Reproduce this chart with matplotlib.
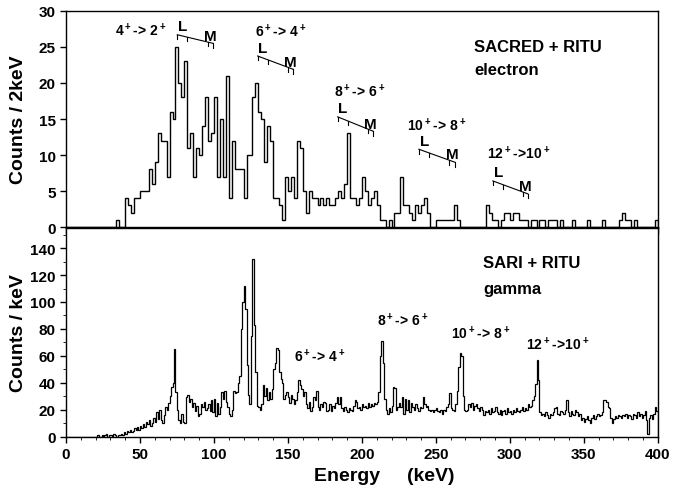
import numpy as np
import matplotlib
matplotlib.use("Agg")
import matplotlib.pyplot as plt
from matplotlib.ticker import MultipleLocator, FixedLocator

plt.rcParams['font.family'] = ['Liberation Sans', 'DejaVu Sans']
plt.rcParams['font.weight'] = 'bold'
plt.rcParams['mathtext.fontset'] = 'custom'
plt.rcParams['mathtext.bf'] = 'Liberation Sans:bold'
plt.rcParams['mathtext.rm'] = 'Liberation Sans:bold'
plt.rcParams['mathtext.default'] = 'bf'

# electron spectrum, 2 keV bins from 0 to 400 keV
electron_counts = [
    0, 0, 0, 0, 0, 0, 0, 0, 0, 0,
    0, 0, 0, 0, 0, 0, 0, 1, 0, 0,
    4, 3, 2, 4, 4, 5, 5, 5, 8, 6,
    9, 13, 12, 12, 7, 16, 15, 25, 20, 18,
    23, 11, 13, 7, 11, 10, 14, 18, 12, 13,
    18, 7, 15, 7, 21, 4, 12, 8, 8, 8,
    4, 10, 10, 18, 20, 16, 15, 9, 14, 12,
    4, 4, 3, 1, 7, 5, 7, 4, 12, 11,
    5, 2, 5, 4, 4, 3, 4, 3, 4, 3,
    3, 4, 5, 4, 6, 13, 4, 4, 3, 4,
    7, 5, 3, 4, 5, 3, 1, 1, 0, 1,
    0, 2, 2, 7, 3, 3, 2, 1, 3, 2,
    3, 4, 2, 0, 0, 1, 1, 1, 1, 1,
    1, 3, 1, 0, 0, 0, 0, 0, 0, 0,
    0, 0, 3, 2, 1, 1, 0, 1, 2, 2,
    1, 2, 2, 1, 1, 1, 0, 1, 1, 0,
    1, 1, 0, 1, 1, 1, 0, 1, 0, 0,
    0, 1, 0, 0, 0, 0, 1, 0, 0, 0,
    0, 1, 0, 0, 0, 0, 0, 1, 2, 1,
    1, 0, 1, 0, 0, 0, 0, 0, 0, 1,
]

# gamma spectrum, 1 keV bins from 0 to 400 keV
gamma_counts = [
    0, 0, 0, 0, 0, 0, 0, 0, 0, 0,
    0, 0, 0, 0, 0, 0, 0, 0, 0, 0,
    0, 1, 0, 0, 1, 0, 1, 2, 0, 1,
    1, 0, 2, 1, 0, 1, 1, 2, 1, 3,
    2, 4, 3, 5, 3, 4, 6, 5, 7, 5,
    8, 6, 9, 7, 11, 9, 12, 8, 10, 14,
    11, 18, 13, 20, 12, 10, 16, 22, 20, 25,
    30, 37, 40, 65, 33, 20, 12, 10, 17, 11,
    10, 29, 31, 26, 28, 22, 25, 19, 23, 15,
    17, 24, 22, 26, 20, 21, 24, 19, 27, 18,
    28, 15, 25, 17, 22, 33, 28, 34, 26, 22,
    17, 15, 20, 34, 32, 33, 40, 45, 80, 100,
    112, 95, 53, 31, 24, 75, 132, 83, 48, 23,
    22, 20, 24, 38, 30, 36, 27, 33, 28, 35,
    50, 55, 66, 64, 48, 43, 40, 28, 31, 33,
    29, 25, 31, 28, 24, 27, 33, 42, 38, 35,
    30, 33, 24, 21, 26, 19, 22, 29, 27, 34,
    22, 20, 24, 22, 26, 25, 19, 20, 24, 19,
    23, 21, 25, 29, 24, 29, 21, 19, 22, 20,
    18, 21, 20, 19, 23, 27, 26, 21, 22, 20,
    24, 22, 23, 21, 25, 22, 24, 23, 25, 24,
    26, 33, 60, 71, 55, 28, 20, 17, 21, 18,
    23, 37, 36, 20, 22, 25, 22, 29, 17, 28,
    20, 27, 18, 25, 22, 20, 24, 21, 19, 22,
    21, 29, 24, 22, 23, 20, 19, 20, 18, 20,
    21, 19, 18, 20, 17, 20, 19, 22, 24, 32,
    21, 20, 19, 24, 34, 52, 62, 60, 30, 20,
    19, 20, 24, 22, 25, 20, 23, 24, 21, 19,
    22, 20, 16, 19, 18, 20, 17, 21, 18, 19,
    22, 18, 17, 20, 16, 19, 20, 17, 21, 18,
    19, 17, 20, 18, 21, 19, 18, 20, 22, 19,
    21, 20, 24, 22, 23, 27, 30, 39, 57, 42,
    18, 16, 17, 15, 18, 16, 14, 17, 16, 18,
    21, 22, 17, 16, 19, 18, 17, 20, 27, 18,
    15, 19, 17, 16, 20, 18, 15, 17, 12, 14,
    11, 13, 15, 12, 10, 14, 16, 13, 15, 17,
    15, 16, 18, 27, 27, 26, 22, 21, 14, 10,
    13, 15, 14, 16, 15, 14, 16, 15, 17, 14,
    16, 15, 13, 17, 16, 14, 18, 15, 17, 14,
    16, 19, 12, 2, 14, 16, 13, 17, 22, 19,
]

# transition labels and L/M conversion line positions (keV)
e_labels = ["4$^+$-> 2$^+$", "6$^+$-> 4$^+$", "8$^+$-> 6$^+$",
            "10$^+$-> 8$^+$", "12$^+$->10$^+$"]
e_label_pos = [(50.7, 27.4), (145.3, 27.2), (198.6, 18.9), (250.7, 14.2), (306.0, 10.3)]
lm_lines = [(75.2, 26.7, 99.5, 25.5), (129.5, 23.75, 153.6, 21.9),
            (183.6, 15.3, 207.6, 13.3), (238.5, 10.8, 262.8, 9.0),
            (288.5, 6.4, 312.2, 4.6)]
g_labels = ["6$^+$-> 4$^+$", "8$^+$-> 6$^+$", "10$^+$-> 8$^+$", "12$^+$->10$^+$"]
g_label_pos = [(171.6, 59.9), (227.7, 86.6), (280.0, 77.0), (332.0, 68.8)]

e_edges = np.arange(0, 401, 2)
g_edges = np.arange(0, 401, 1)

fig = plt.figure(figsize=(6.91, 4.89), dpi=100)
ax1 = fig.add_axes([0.0955, 0.5337, 0.8565, 0.4418])
ax2 = fig.add_axes([0.0955, 0.1053, 0.8565, 0.4264])

ax1.stairs(electron_counts, e_edges, color='black', lw=1.0)
ax2.stairs(gamma_counts, g_edges, color='black', lw=0.9)

ax1.set_xlim(0, 400)
ax1.set_ylim(0, 30)
ax2.set_xlim(0, 400)
ax2.set_ylim(0, 155)

for ax in (ax1, ax2):
    for s in ax.spines.values():
        s.set_linewidth(1.0)
    ax.tick_params(direction='out', width=1.0, labelsize=11)

ax1.yaxis.set_major_locator(MultipleLocator(5))
ax1.xaxis.set_major_locator(FixedLocator([0, 400]))
ax1.tick_params(axis='x', labelbottom=False, length=5)
ax1.tick_params(axis='y', length=4)

ax2.xaxis.set_major_locator(MultipleLocator(50))
ax2.xaxis.set_minor_locator(MultipleLocator(10))
ax2.yaxis.set_major_locator(FixedLocator(np.arange(0, 141, 20)))
ax2.yaxis.set_minor_locator(MultipleLocator(10))
ax2.tick_params(which='major', length=4)
ax2.tick_params(which='minor', length=2)

for lab in ax1.get_yticklabels() + ax2.get_yticklabels() + ax2.get_xticklabels():
    lab.set_fontweight('bold')

ax1.set_ylabel("Counts / 2keV", fontsize=14, fontweight='bold')
ax2.set_ylabel("Counts / keV", fontsize=14, fontweight='bold')
ax1.yaxis.set_label_coords(-0.066, 0.5)
ax2.yaxis.set_label_coords(-0.066, 0.5)
ax2.set_xlabel("Energy     (keV)", fontsize=14, fontweight='bold')
ax2.xaxis.set_label_coords(0.537, -0.146)

# electron annotations
for txt, (x, y) in zip(e_labels, e_label_pos):
    ax1.text(x, y, txt, fontsize=10, ha='center', va='center', fontweight='bold')
for xL, yL, xM, yM in lm_lines:
    ax1.plot([xL, xM], [yL, yM], color='black', lw=0.8)
    d = xM - xL
    for f in (0.0, 0.28, 0.85, 1.0):
        xt = xL + f * d
        yt = yL + f * (yM - yL)
        ax1.plot([xt, xt], [yt, yt - 0.6], color='black', lw=0.8)
    ax1.text(xL + 0.5, yL + 0.2, "L", fontsize=11, ha='left', va='bottom', fontweight='bold')
    ax1.text(xM + 2.5, yM + 0.1, "M", fontsize=11, ha='right', va='bottom', fontweight='bold')

ax1.text(275.7, 25.1, "SACRED + RITU", fontsize=12, ha='left', va='center', fontweight='bold')
ax1.text(275.7, 21.9, "electron", fontsize=12, ha='left', va='center', fontweight='bold')

for txt, (x, y) in zip(g_labels, g_label_pos):
    ax2.text(x, y, txt, fontsize=10, ha='center', va='center', fontweight='bold')
ax2.text(281.8, 129.4, "SARI + RITU", fontsize=12, ha='left', va='center', fontweight='bold')
ax2.text(281.8, 109.7, "gamma", fontsize=12, ha='left', va='center', fontweight='bold')

fig.savefig("out.png", dpi=100)
